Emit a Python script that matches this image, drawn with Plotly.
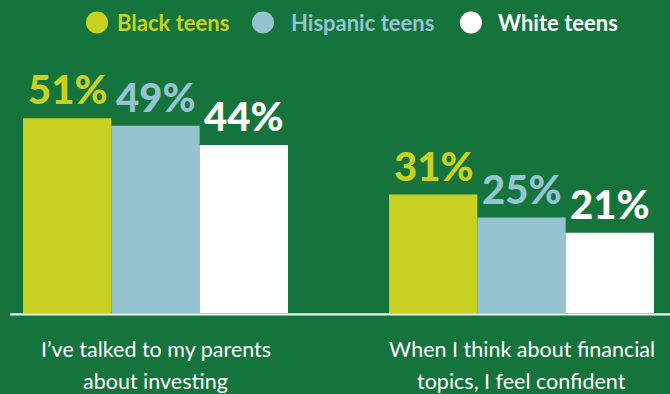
import plotly.graph_objects as go

categories = ["I’ve talked to my parents\nabout investing",
              "When I think about financial\ntopics, I feel confident"]
series_names = ["Black teens", "Hispanic teens", "White teens"]
black = [51, 31]
hispanic = [49, 25]
white = [44, 21]
values = [black, hispanic, white]
colors = ["#c8d121", "#95c3d0", "#ffffff"]
BG = "#14743c"

W, H = 670, 394
PLOT_BOTTOM = 313  # px from top
PX_PER_UNIT = 366.0
CENTER0 = 155.5
BAR_W = 88.3 / PX_PER_UNIT

fig = go.Figure()
xidx = list(range(len(categories)))
for name, vals, col in zip(series_names, values, colors):
    fig.add_trace(go.Bar(x=xidx, y=vals, name=name, marker=dict(color=col, line=dict(width=0)),
                         showlegend=False, hoverinfo="skip"))

# value labels
for k, (vals, col) in enumerate(zip(values, colors)):
    off = (k - 1) * BAR_W
    for i, v in enumerate(vals):
        fig.add_annotation(x=i + off, y=v, xref="x", yref="y", text=f"{v}%",
                           showarrow=False, yanchor="bottom", xanchor="center", yshift=3,
                           font=dict(family="Lato", size=40, color=col, weight=900))

def py(p):
    return (PLOT_BOTTOM - p) / PLOT_BOTTOM

# category labels (two lines)
for i, cat in enumerate(categories):
    lines = cat.split("\n")
    for j, ln in enumerate(lines):
        fig.add_annotation(x=i, y=py(349 + 31.7 * j), xref="x", yref="paper", text=ln,
                           showarrow=False, xanchor="center", yanchor="middle",
                           font=dict(family="Lato", size=21.5, color="#ffffff"))

# legend (manual, circles)
leg_circle_x = [97, 263, 471]
leg_text_x = [115, 289, 496]
for name, col, cx, tx in zip(series_names, colors, leg_circle_x, leg_text_x):
    fig.add_shape(type="circle", xref="paper", yref="paper", xsizemode="pixel", ysizemode="pixel",
                  xanchor=cx / W, yanchor=py(22.5), x0=-11, x1=11, y0=-11, y1=11,
                  fillcolor=col, line=dict(width=0))
    fig.add_annotation(x=tx / W, y=py(23), xref="paper", yref="paper", text=f"<b>{name}</b>",
                       showarrow=False, xanchor="left", yanchor="middle",
                       font=dict(family="Lato", size=22, color=col))

# baseline
fig.add_shape(type="line", xref="paper", yref="paper", x0=10 / W, x1=1,
              y0=py(314.4), y1=py(314.4), line=dict(color="#eef2ee", width=2.3), layer="above")

fig.update_layout(
    width=W, height=H,
    margin=dict(l=0, r=0, t=0, b=H - PLOT_BOTTOM),
    paper_bgcolor=BG, plot_bgcolor=BG,
    barmode="group", bargap=1 - 3 * BAR_W, bargroupgap=0,
    xaxis=dict(range=[-CENTER0 / PX_PER_UNIT, (W - CENTER0) / PX_PER_UNIT], showticklabels=False,
               showgrid=False, zeroline=False, showline=False, fixedrange=True),
    yaxis=dict(range=[0, PLOT_BOTTOM / 3.82], visible=False, showgrid=False, zeroline=False,
               fixedrange=True),
    showlegend=False,
)

fig.write_html("out.html")
